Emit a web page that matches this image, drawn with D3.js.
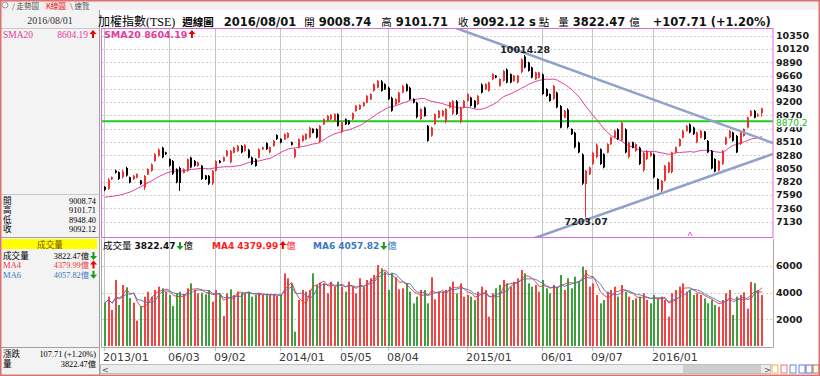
<!DOCTYPE html>
<html>
<head>
<meta charset="utf-8">
<script src="https://cdn.jsdelivr.net/npm/d3@7"></script>
<style>
  body { margin: 0; background: #fff; }
  svg { display: block; }
</style>
</head>
<body>
<div id="chart"></div>
<script>
// 加權指數(TSE) 週線圖 - 2013/01 ~ 2016/08/01

// weeks (Mondays) shown on the chart
const weeks = d3.timeMonday.range(new Date(2013, 0, 28), new Date(2016, 7, 2));

// weekly OHLC
const opens = [7735,7700,7865,8015,7990,7900,8060,7900,7865,7895,7845,7720,7945,8010,8180,8270,8410,8330,8215,8180,
  8040,8060,7975,8010,8240,8180,8095,8100,7930,7925,7790,8010,8185,8175,8265,8160,8325,8350,8440,8355,
  8375,8245,8210,8240,8380,8490,8330,8440,8630,8565,8555,8585,8505,8250,8415,8525,8555,8590,8740,8735,
  8520,8815,8870,8900,8875,8990,8680,8905,8880,8900,9045,9075,9130,9190,9245,9395,9450,9560,9510,9450,
  9270,9160,9195,9365,9505,9450,9255,9190,8905,9105,8790,8620,8820,8930,8960,8860,9105,9000,9215,8860,
  9105,9220,9280,9225,9165,9505,9420,9395,9595,9660,9480,9570,9765,9685,9565,9540,9720,9990,9885,9800,
  9595,9620,9680,9425,9340,9255,9365,9130,8930,9070,8735,8670,8500,8295,7780,7950,8130,8250,8385,8300,
  8325,8470,8585,8730,8540,8725,8250,8505,8355,8410,8020,8215,8265,8295,7870,7670,7840,7985,7990,8325,
  8440,8585,8700,8815,8760,8505,8585,8690,8530,8355,8215,8015,8130,8470,8585,8675,8615,8475,8615,8760,
  8960,9050,8955,9008.74];
const highs = [7745,7885,7912,8030,8000,8025,8080,7910,7940,7967,7852,7939,8054,8140,8314,8400,8429,8342,8227,8198,
  8054,8083,8054,8227,8256,8198,8169,8112,7939,7939,8025,8198,8198,8256,8371,8371,8429,8458,8458,8470,
  8390,8256,8227,8400,8429,8505,8429,8544,8643,8573,8660,8677,8516,8400,8573,8631,8660,8775,8746,8746,
  8804,8919,8977,8990,9006,9006,8862,8919,8891,9020,9150,9162,9208,9323,9352,9525,9583,9583,9525,9468,
  9294,9266,9381,9496,9525,9468,9266,9208,9093,9121,8804,8775,9006,9064,9064,9093,9208,9237,9237,9121,
  9237,9352,9294,9237,9323,9525,9525,9554,9698,9670,9612,9756,9785,9698,9670,9670,9958,10014.28,9900,9814,
  9727,9727,9698,9439,9352,9496,9381,9150,9064,9093,8746,8689,8516,8314,8025,8083,8342,8487,8400,8314,
  8487,8602,8717,8746,8862,8746,8516,8516,8487,8429,8342,8371,8342,8314,7881,7852,8112,8169,8342,8429,
  8573,8717,8804,8833,8775,8689,8717,8700,8544,8371,8227,8198,8371,8602,8717,8689,8631,8717,8746,8948,
  9064,9064,9006,9101.71];
const lows = [7660,7679,7850,7965,7852,7880,7910,7795,7852,7880,7766,7679,7939,7996,8169,8256,8227,8285,8083,7939,
  7794,7663,7967,7996,8054,8083,8083,7852,7852,7766,7766,7996,8140,8169,8256,8140,8314,8342,8314,8342,
  8227,8112,8083,8227,8371,8371,8314,8429,8544,8487,8544,8573,8447,8227,8400,8516,8544,8573,8660,8573,
  8487,8804,8862,8891,8862,8775,8660,8804,8804,8891,9035,9064,9121,9179,9237,9381,9439,9381,9410,9237,
  9035,9150,9179,9352,9381,9237,9179,8919,8891,8948,8516,8602,8804,8919,8948,8833,9093,8977,8977,8833,
  9093,9208,9121,9093,9150,9352,9410,9381,9583,9612,9468,9554,9525,9525,9554,9525,9698,9785,9727,9612,
  9583,9612,9323,9294,9208,9237,9093,8746,8919,8746,8631,8400,8314,7766,7203.07,7939,8112,8227,8112,8054,
  8314,8458,8573,8544,8516,8314,8227,8400,8342,8112,7996,8198,8256,7881,7679,7627,7823,7967,7967,8314,
  8429,8573,8689,8660,8631,8487,8573,8544,8320,8040,7985,7996,8112,8458,8573,8516,8320,8458,8602,8746,
  8948,8919,8948,8948.40];
const closes = [7680,7860,7900,7980,7870,8000,7930,7810,7925,7955,7780,7920,8040,8120,8300,8380,8245,8300,8100,7960,
  7810,7800,8040,8210,8070,8100,8160,7870,7865,7790,8010,8180,8150,8245,8360,8355,8415,8445,8330,8455,
  8240,8125,8095,8385,8420,8385,8420,8530,8560,8500,8645,8665,8460,8385,8560,8620,8650,8760,8670,8590,
  8790,8905,8965,8980,8995,8790,8850,8815,8820,9010,9140,9150,9195,9310,9340,9510,9570,9395,9420,9250,
  9050,9255,9365,9480,9395,9250,9190,8940,9080,8960,8530,8760,8990,9050,9050,9080,9195,9220,8995,9105,
  9225,9340,9135,9105,9310,9365,9515,9540,9690,9625,9600,9740,9540,9540,9660,9660,9940,9800,9740,9625,
  9715,9715,9340,9305,9220,9480,9110,8760,9050,8770,8645,8420,8330,7790,8010,8070,8325,8460,8130,8070,
  8475,8590,8705,8560,8845,8330,8500,8410,8475,8130,8325,8355,8330,7900,7690,7840,8100,8155,8330,8420,
  8560,8705,8790,8675,8645,8675,8705,8560,8330,8050,8000,8180,8355,8590,8705,8530,8330,8700,8735,8935,
  9050,8930,8984.41,9092.12];
// the 19 weekly closes before the first visible week (for SMA20)
const earlyCloses = [7750,7720,7780,7700,7650,7550,7420,7350,7280,7170,7260,7330,7450,7580,7640,7700,7690,7720,7690];

// weekly volume (億)
const volumes = [3250,3700,2700,4950,3075,4575,4400,3600,3250,1900,3000,3700,4075,3700,4200,4450,4325,4075,3825,3000,
  3950,4075,3900,4325,4700,4200,3950,4000,3875,4200,3325,4200,3950,2250,3950,4250,3825,4075,4000,3950,
  4075,3700,3825,4000,3825,3825,3825,3825,3750,3825,5450,5075,4700,1075,3450,4200,4075,4200,5450,4575,
  4750,4700,3950,4825,4450,4825,4450,4075,4825,4450,3950,5075,4450,4950,5075,5325,6075,5825,5575,4200,
  5500,5150,4250,4325,4700,4075,3200,3700,4200,4200,3200,5150,3500,4075,4075,4200,4450,4825,3950,4700,
  3700,3825,3700,3450,4075,4450,4200,2200,3950,4325,4575,4950,4700,4450,4825,5075,5700,5450,4700,4450,
  4575,4075,4950,4325,3950,4575,4450,5325,4200,5075,4325,5200,4825,5950,5700,4450,4700,3825,3200,3450,
  4075,4200,4450,3700,4575,4075,3700,3450,3575,3700,3950,3450,3200,3825,3575,3700,3450,2200,3950,4200,
  4450,4700,4075,4200,3825,3950,3825,3575,3200,3450,3075,2950,3450,3950,4200,2325,3700,3825,4025,2800,
  4797.5,4700,4200,3822.47];

// axis ticks
const priceTicks = d3.range(7130, 10351, 230);
const volTicks = [2000, 4000, 6000];
const tickDates = [new Date(2013,0,28), new Date(2013,5,3), new Date(2013,8,2), new Date(2014,0,6), new Date(2014,4,5),
  new Date(2014,7,4), new Date(2015,0,5), new Date(2015,5,1), new Date(2015,8,7), new Date(2016,0,4)];
const tickLabels = ["2013/01","06/03","09/02","2014/01","05/05","08/04","2015/01","06/01","09/07","2016/01"];

// drawn lines: support level and the triangle ([week index, price])
const supportLevel = 8870.2;
const trendLines = [[[97.7, 10483], [186.0, 8493]], [[119.7, 6848], [186.0, 8302]]];
const peak = {idx: 117, value: "10014.28"};
const bottom = {idx: 134, value: "7203.07"};

// header text
const info = {date: "2016/08/01", open: "9008.74", high: "9101.71", low: "8948.40", close: "9092.12",
  vol: "3822.47", chg: "+107.71 (+1.20%)", sma20: "8604.19", ma4: "4379.99", ma6: "4057.82"};

const W = 820, H = 376;
const RED = "#ee3333", PINK = "#e0409a", BLUE = "#3a78c0", UPA = "#e00", DNA = "#1a9a1a";
const cjk = "'Noto Sans CJK TC', sans-serif";
const serif = "'Liberation Serif', 'Noto Sans CJK TC', serif";
const bold = "'DejaVu Sans', sans-serif";

const svg = d3.select("#chart").append("svg")
    .attr("width", W).attr("height", H);

// panels
const pp = {left: 102, right: 773, top: 28, bottom: 237};
const vp = {left: 102, right: 773, top: 239, bottom: 347};

const x = d3.scaleLinear().domain([-0.86, 186.04]).range([pp.left, pp.right]);
const y = d3.scaleLinear().domain([7130, 10350]).range([221.7, 35.7]);
const yv = d3.scaleLinear().domain([0, 6000]).range([346, 266]);
const cx = i => Math.round(x(i));

// small up / down arrow, ax = centre, ay = baseline
function arrow(g, ax, ay, up, color) {
  const p = up
    ? `M${ax},${ay-8} L${ax+3.5},${ay-4} L${ax+1},${ay-4} L${ax+1},${ay} L${ax-1},${ay} L${ax-1},${ay-4} L${ax-3.5},${ay-4} Z`
    : `M${ax},${ay+1} L${ax+3.5},${ay-3} L${ax+1},${ay-3} L${ax+1},${ay-7} L${ax-1},${ay-7} L${ax-1},${ay-3} L${ax-3.5},${ay-3} Z`;
  g.append("path").attr("d", p).attr("fill", color);
}
function txt(g, tx, ty, s, opt) {
  const t = g.append("text").attr("x", tx).attr("y", ty).text(s)
    .attr("font-family", opt.font || cjk).attr("font-size", opt.size || 10)
    .attr("fill", opt.color || "#000");
  if (opt.bold) t.attr("font-weight", "bold");
  if (opt.anchor) t.attr("text-anchor", opt.anchor);
  return t;
}
// lay out text pieces one after the other: {s, opt, gap, at, arrow: [up, color]}
function row(g, x0, yb, parts) {
  let cur = x0;
  parts.forEach(function(p) {
    cur += p.gap || 0;
    if (p.at !== undefined) cur = p.at;
    if (p.arrow) {
      arrow(g, cur + 3.5, yb, p.arrow[0], p.arrow[1]);
      cur += 7;
    } else {
      const t = txt(g, cur, yb, p.s, p.opt);
      cur += t.node().getComputedTextLength();
    }
  });
}

// ---------- frame ----------
svg.append("rect").attr("width", W).attr("height", H).attr("fill", "#fff");
svg.append("rect").attr("x", 0).attr("y", 0).attr("width", W).attr("height", 10).attr("fill", "#f1f1f1");
svg.append("rect").attr("x", 0).attr("y", 10).attr("width", 99).attr("height", H - 10).attr("fill", "#f3f3f3");
svg.append("line").attr("x1", 99.5).attr("x2", 99.5).attr("y1", 10).attr("y2", H).attr("stroke", "#a0a0a0");

// tabs
const tabs = svg.append("g");
tabs.append("circle").attr("cx", 5).attr("cy", 5).attr("r", 3).attr("fill", "none").attr("stroke", "#999");
txt(tabs, 12, 8.5, "/ 走勢圖", {size: 7.5, color: "#555"});
tabs.append("rect").attr("x", 44).attr("y", 1).attr("width", 26).attr("height", 9).attr("fill", "#fbe3e3");
txt(tabs, 46, 8.5, "K線圖", {size: 7.5, color: "#d22"});
txt(tabs, 70, 8.5, "\\ 速覽", {size: 7.5, color: "#555"});

// ---------- left panel ----------
const lp = svg.append("g");
const lab = c => ({font: serif, size: 8.6, color: c || "#000"});
lp.append("line").attr("x1", 0).attr("x2", 99).attr("y1", 28.5).attr("y2", 28.5).attr("stroke", "#c8c8c8");
txt(lp, 50, 24, info.date, {font: serif, size: 10, color: "#333", anchor: "middle"});
txt(lp, 3, 38, "SMA20", {font: serif, size: 9.5, color: PINK});
txt(lp, 88, 38, info.sma20, {font: serif, size: 9.5, color: PINK, anchor: "end"});
arrow(lp, 93, 38, true, UPA);

const ohlcRows = [["開", info.open], ["高", info.high], ["低", info.low], ["收", info.close]];
lp.append("line").attr("x1", 0).attr("x2", 99).attr("y1", 194.5).attr("y2", 194.5).attr("stroke", "#c8c8c8");
ohlcRows.forEach(function(r, k) {
  txt(lp, 3, 204 + k * 9.4, r[0], lab());
  txt(lp, 96, 204 + k * 9.4, r[1], {font: serif, size: 8.3, anchor: "end"});
});
lp.append("line").attr("x1", 0).attr("x2", 99).attr("y1", 237.5).attr("y2", 237.5).attr("stroke", "#a0a0a0");
lp.append("rect").attr("x", 2).attr("y", 239).attr("width", 95).attr("height", 10).attr("fill", "#ffff00");
txt(lp, 50, 247.5, "成交量", {font: serif, size: 8.6, color: "#7a5a00", anchor: "middle"});
const volRows = [["成交量", info.vol, "#000", false], ["MA4", info.ma4, RED, true], ["MA6", info.ma6, BLUE, false]];
volRows.forEach(function(r, k) {
  const yy = 259 + k * 9.4;
  txt(lp, 3, yy, r[0], lab(r[2]));
  txt(lp, 89, yy, r[1] + "億", {font: serif, size: 8.3, color: r[2], anchor: "end"});
  arrow(lp, 93.5, yy, r[3], r[3] ? UPA : DNA);
});
lp.append("line").attr("x1", 0).attr("x2", 99).attr("y1", 347.5).attr("y2", 347.5).attr("stroke", "#a0a0a0");
txt(lp, 3, 357, "漲跌", lab());
txt(lp, 96, 357, "107.71 (+1.20%)", {font: serif, size: 8.3, anchor: "end"});
txt(lp, 3, 367, "量", lab());
txt(lp, 96, 367, info.vol + "億", {font: serif, size: 8.3, anchor: "end"});

// ---------- title ----------
const numOpt = {font: bold, size: 11.5, bold: true, color: "#111"};
const cjOpt = {size: 10.5};
row(svg.append("g"), 98, 26, [
  {s: "加權指數", opt: {size: 12}},
  {s: "(TSE)", opt: {font: serif, size: 12}},
  {s: "週線圖", opt: {size: 10.5, bold: true}, gap: 7},
  {s: info.date, opt: numOpt, gap: 10},
  {s: "開", opt: cjOpt, gap: 8},
  {s: info.open, opt: numOpt, gap: 4},
  {s: "高", opt: cjOpt, gap: 10},
  {s: info.high, opt: numOpt, gap: 4},
  {s: "收", opt: cjOpt, gap: 10},
  {s: info.close, opt: numOpt, gap: 4},
  {s: "s", opt: numOpt, gap: 4},
  {s: "點", opt: cjOpt, gap: 3},
  {s: "量", opt: cjOpt, gap: 9},
  {s: info.vol, opt: numOpt, gap: 4},
  {s: "億", opt: cjOpt, gap: 4},
  {s: info.chg, opt: numOpt, gap: 13}
]);

// ---------- grid ----------
const grid = svg.append("g");
grid.selectAll(".hp").data(priceTicks).enter().append("line")
  .attr("x1", pp.left).attr("x2", pp.right)
  .attr("y1", d => Math.round(y(d)) + 0.5).attr("y2", d => Math.round(y(d)) + 0.5)
  .attr("stroke", "#cfcfcf").attr("stroke-dasharray", "2,2");
grid.selectAll(".hv").data(volTicks).enter().append("line")
  .attr("x1", vp.left).attr("x2", vp.right)
  .attr("y1", d => Math.round(yv(d)) + 0.5).attr("y2", d => Math.round(yv(d)) + 0.5)
  .attr("stroke", "#cfcfcf").attr("stroke-dasharray", "2,2");
const tickIdx = tickDates.map(t => weeks.findIndex(w => +w === +t));
grid.selectAll(".v").data(tickIdx).enter().append("line")
  .attr("x1", d => cx(d) - 0.5).attr("x2", d => cx(d) - 0.5)
  .attr("y1", pp.top).attr("y2", vp.bottom + 4)
  .attr("stroke", "#c4c4c4");

// ---------- price panel ----------
svg.append("clipPath").attr("id", "pclip").append("rect")
  .attr("x", pp.left).attr("y", pp.top).attr("width", pp.right - pp.left).attr("height", pp.bottom - pp.top);
const pg = svg.append("g").attr("clip-path", "url(#pclip)");

// support line
pg.append("line").attr("x1", pp.left).attr("x2", pp.right)
  .attr("y1", y(supportLevel)).attr("y2", y(supportLevel))
  .attr("stroke", "#22cc22").attr("stroke-width", 2);

// SMA20
const allCloses = earlyCloses.concat(closes);
const sma20 = closes.map((c, i) => d3.mean(allCloses.slice(i, i + 20)));
pg.append("path").datum(sma20)
  .attr("d", d3.line().x((d, i) => x(i)).y(d => y(d)))
  .attr("fill", "none").attr("stroke", PINK).attr("stroke-width", 1);

// candles
const candles = pg.selectAll(".c").data(closes).enter().append("g");
candles.append("line")
  .attr("x1", (d, i) => cx(i) - 0.5).attr("x2", (d, i) => cx(i) - 0.5)
  .attr("y1", (d, i) => y(highs[i])).attr("y2", (d, i) => y(lows[i]))
  .attr("stroke", (d, i) => d >= opens[i] ? RED : "#000");
candles.append("rect")
  .attr("x", (d, i) => cx(i) - 1).attr("width", 2)
  .attr("y", (d, i) => y(Math.max(d, opens[i])))
  .attr("height", (d, i) => Math.max(1, Math.abs(y(d) - y(opens[i]))))
  .attr("fill", (d, i) => d >= opens[i] ? RED : "#000");

// triangle lines
trendLines.forEach(function(l) {
  pg.append("line")
    .attr("x1", x(l[0][0])).attr("y1", y(l[0][1]))
    .attr("x2", x(l[1][0])).attr("y2", y(l[1][1]))
    .attr("stroke", "#8fa2c9").attr("stroke-width", 2.5);
});

// extremes
txt(pg, x(peak.idx), y(highs[peak.idx]) - 2, peak.value, {font: bold, size: 9.5, bold: true, color: "#222", anchor: "middle"});
txt(pg, x(bottom.idx), y(lows[bottom.idx]) + 8, bottom.value, {font: bold, size: 9.5, bold: true, color: "#222", anchor: "middle"});

// small marker at panel bottom
pg.append("path").attr("d", `M${cx(163) - 2},${pp.bottom - 1} L${cx(163)},${pp.bottom - 5} L${cx(163) + 2},${pp.bottom - 1}`)
  .attr("fill", "none").attr("stroke", "#e060e0");

// panel border + label
svg.append("rect").attr("x", pp.left - 0.5).attr("y", pp.top + 0.5)
  .attr("width", pp.right - pp.left + 0.5).attr("height", pp.bottom - pp.top)
  .attr("fill", "none").attr("stroke", "#dc6adc");
row(svg.append("g"), 104, 38, [
  {s: "SMA20 " + info.sma20, opt: {font: bold, size: 9.5, bold: true, color: PINK}},
  {arrow: [true, UPA], gap: 1}
]);

// price axis
const ya = svg.append("g");
ya.selectAll("text").data(priceTicks).enter().append("text")
  .attr("x", 776).attr("y", d => y(d)).attr("dy", "0.35em")
  .attr("font-family", bold).attr("font-size", 9.5).attr("font-weight", "bold").attr("fill", "#1a1a1a")
  .text(d => d);
ya.append("rect").attr("x", 775).attr("y", y(supportLevel) - 3).attr("width", 36).attr("height", 9).attr("fill", "#fff");
txt(ya, 776, y(supportLevel) + 4.5, supportLevel.toFixed(1), {font: bold, size: 9, color: "#22bb22"});

// ---------- volume panel ----------
const vg = svg.append("g");
vg.selectAll("rect").data(volumes).enter().append("rect")
  .attr("x", (d, i) => cx(i) - 1).attr("width", 2)
  .attr("y", d => yv(d)).attr("height", d => yv(0) - yv(d))
  .attr("fill", (d, i) => (i === 0 ? closes[0] >= opens[0] : closes[i] >= closes[i - 1]) ? "#f04545" : "#3da03d");
function ma(n) { return volumes.map((v, i) => d3.mean(volumes.slice(Math.max(0, i - n + 1), i + 1))); }
[[4, RED], [6, BLUE]].forEach(function(m) {
  vg.append("path").datum(ma(m[0]))
    .attr("d", d3.line().x((d, i) => x(i)).y(d => yv(d)))
    .attr("fill", "none").attr("stroke", m[1]).attr("stroke-width", 0.9);
});
svg.append("path").attr("d", `M${vp.left - 0.5},${vp.top} V${vp.bottom + 0.5} H${vp.right + 0.5} V${vp.top}`)
  .attr("fill", "none").attr("stroke", "#a8a8a8");

// volume header
const vOpt = c => ({font: bold, size: 9, bold: true, color: c});
row(svg.append("g"), 103, 249, [
  {s: "成交量", opt: {size: 9.5}},
  {s: info.vol, opt: vOpt("#111"), gap: 3},
  {arrow: [false, DNA], gap: 1},
  {s: "億", opt: {size: 9.5}},
  {s: "MA4 " + info.ma4, opt: vOpt("#ff2020"), at: 212},
  {arrow: [true, UPA], gap: 1},
  {s: "億", opt: {size: 9.5, color: "#ff2020"}},
  {s: "MA6 " + info.ma6, opt: vOpt(BLUE), at: 313},
  {arrow: [false, DNA], gap: 1},
  {s: "億", opt: {size: 9.5, color: BLUE}}
]);

// volume axis
svg.append("g").selectAll("text").data(volTicks).enter().append("text")
  .attr("x", 776).attr("y", d => yv(d)).attr("dy", "0.35em")
  .attr("font-family", bold).attr("font-size", 9.5).attr("font-weight", "bold").attr("fill", "#1a1a1a")
  .text(d => d);

// ---------- date axis ----------
svg.append("g").selectAll("text").data(tickIdx).enter().append("text")
  .attr("x", d => cx(d) - 2).attr("y", 361)
  .attr("font-family", bold).attr("font-size", 11).attr("fill", "#3a3a3a")
  .text((d, k) => tickLabels[k]);

// scroll bar + tool icons
const sb = svg.append("g");
sb.append("rect").attr("x", 100.5).attr("y", 364.5).attr("width", 670).attr("height", 9).attr("fill", "#ececec").attr("stroke", "#c0c0c0");
sb.append("rect").attr("x", 683).attr("y", 365).attr("width", 78).attr("height", 8).attr("fill", "#cdcdcd");
txt(sb, 102, 372.5, "<", {font: bold, size: 8, color: "#555"});
txt(sb, 764, 372.5, ">", {font: bold, size: 8, color: "#555"});
[["#f0b040", 772], ["#f07070", 781], ["#5a8ad8", 790], ["#5a8ad8", 799], ["#6a6ad0", 806], ["#c07030", 813]]
  .forEach(c => sb.append("rect").attr("x", c[1]).attr("y", 365).attr("width", 6).attr("height", 8)
    .attr("fill", "none").attr("stroke", c[0]));

// outer border
svg.append("rect").attr("x", 0.75).attr("y", 0.75).attr("width", W - 1.5).attr("height", H - 1.5)
  .attr("fill", "none").attr("stroke", "#e07070").attr("stroke-width", 1.5);
</script>
</body>
</html>
